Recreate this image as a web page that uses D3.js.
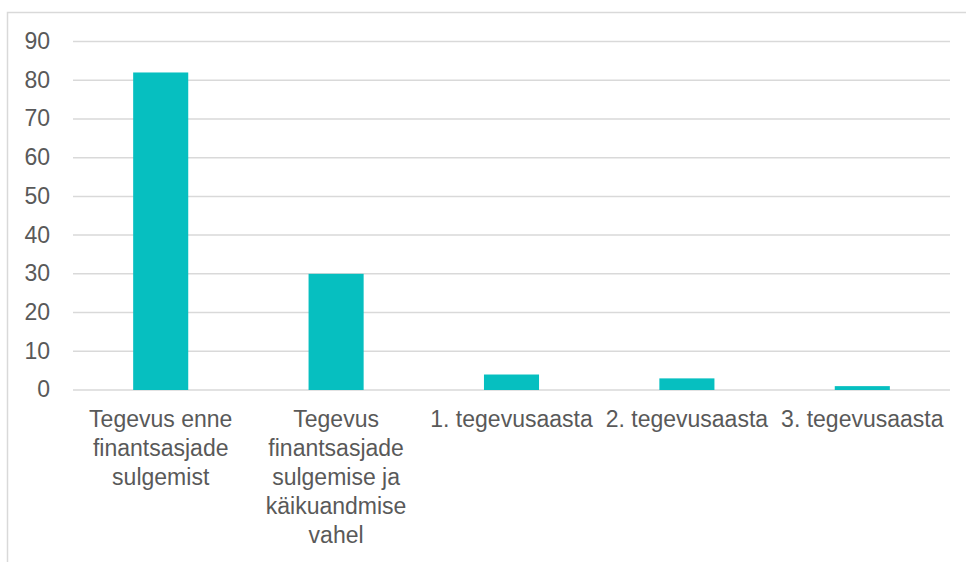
<!DOCTYPE html>
<html>
<head>
<meta charset="utf-8">
<script src="https://cdn.jsdelivr.net/npm/d3@7"></script>
<style>
  body { margin: 0; background: #fff; }
  svg { display: block; }
</style>
</head>
<body>
<div id="chart"></div>
<script>
const categories = [
  ['Tegevus enne', 'finantsasjade', 'sulgemist'],
  ['Tegevus', 'finantsasjade', 'sulgemise ja', 'käikuandmise', 'vahel'],
  ['1. tegevusaasta'],
  ['2. tegevusaasta'],
  ['3. tegevusaasta']
];
const values = [82, 30, 4, 3, 1];
const yTicks = [0, 10, 20, 30, 40, 50, 60, 70, 80, 90];

const width = 966;
const height = 562;
const leftMargin = 73;
const rightMargin = 16;
const topMargin = 41.5;
const plotBottom = 390;

const svg = d3.select('#chart').append('svg').attr('width', width).attr('height', height);

// outer frame of the chart (runs off the page on right and bottom)
svg.append('rect').attr('x', 7.5).attr('y', 12.5).attr('width', 1000).attr('height', 700)
  .attr('fill', 'none').attr('stroke', '#d9d9d9').attr('stroke-width', 1.5);

const xscale = d3.scaleBand().domain(d3.range(values.length)).range([leftMargin, width - rightMargin]).paddingInner(0.686).paddingOuter(0.343);
const yscale = d3.scaleLinear().domain([0, 90]).range([plotBottom, topMargin]);

// gridlines
svg.append('g').selectAll('line').data(yTicks).enter().append('line')
  .attr('x1', leftMargin).attr('x2', width - rightMargin)
  .attr('y1', d => yscale(d)).attr('y2', d => yscale(d))
  .attr('stroke', '#d9d9d9').attr('stroke-width', 1.5);

// bars
svg.append('g').selectAll('rect').data(values).enter().append('rect')
  .attr('x', (d, i) => xscale(i)).attr('width', xscale.bandwidth())
  .attr('y', d => yscale(d)).attr('height', d => yscale(0) - yscale(d))
  .attr('fill', '#06bfc0');

// y axis labels
const yAxis = d3.axisLeft(yscale).tickValues(yTicks).tickSize(0).tickPadding(0);
svg.append('g').attr('transform', 'translate(50,0)').call(yAxis)
  .call(g => g.select('.domain').remove())
  .selectAll('text').attr('font-family', 'Liberation Sans, Arial, sans-serif').attr('font-size', '23px')
  .attr('dy', '0.3em').attr('fill', '#595959');

// x axis labels (wrapped)
const xAxis = d3.axisBottom(xscale).tickSize(0).tickFormat('');
const xg = svg.append('g').attr('transform', `translate(0,${plotBottom})`).call(xAxis);
xg.select('.domain').remove();
xg.selectAll('.tick').each(function(i) {
  const t = d3.select(this).append('text')
    .attr('font-family', 'Liberation Sans, Arial, sans-serif').attr('font-size', '23px')
    .attr('fill', '#595959').attr('text-anchor', 'middle');
  categories[i].forEach((line, k) => {
    t.append('tspan').attr('x', 0).attr('y', 37 + k * 29).text(line);
  });
});
</script>
</body>
</html>
